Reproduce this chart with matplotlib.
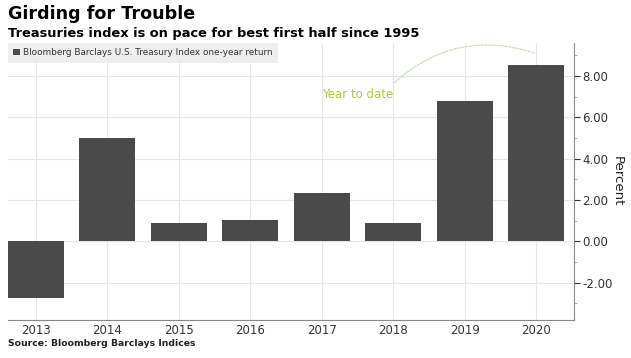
import matplotlib.pyplot as plt
from matplotlib.ticker import MultipleLocator, FormatStrFormatter

years = ['2013', '2014', '2015', '2016', '2017', '2018', '2019', '2020']
returns = [-2.72, 5.02, 0.87, 1.06, 2.32, 0.87, 6.81, 8.55]

BAR = '#4a4a4a'
GRID = '#e6e6e6'
GREEN = '#a8c94e'
ARC = '#bfe3b4'

W, H = 631, 358
fig = plt.figure(figsize=(W / 100, H / 100), dpi=100)
ax = fig.add_axes([8 / W, 1 - 320 / H, (574 - 8) / W, (320 - 43) / H])

x = range(len(years))
ax.bar(x, returns, width=0.78, color=BAR, label='Bloomberg Barclays U.S. Treasury Index one-year return',
       zorder=2)

ax.set_xlim(-0.39, 7.53)
ax.set_ylim(-3.8, 9.6)
ax.set_xticks(list(x))
ax.set_xticklabels(years)
ax.yaxis.tick_right()
ax.yaxis.set_label_position('right')
ax.yaxis.set_major_locator(MultipleLocator(2))
ax.yaxis.set_minor_locator(MultipleLocator(1))
ax.yaxis.set_major_formatter(FormatStrFormatter('%.2f'))
ax.set_ylabel('Percent', rotation=-90, labelpad=8, fontsize=9.5, color='#222222')
ax.tick_params(axis='y', which='major', length=4, labelsize=8.5, colors='#333333', pad=2)
ax.tick_params(axis='y', which='minor', length=2, colors='#999999')
ax.tick_params(axis='x', length=0, labelsize=8.5, colors='#333333', pad=3)
ax.grid(True, color=GRID, linewidth=0.8, zorder=0)
ax.set_axisbelow(True)
for s in ['top', 'left']:
    ax.spines[s].set_visible(False)
ax.spines['right'].set_color('#888888')
ax.spines['bottom'].set_color('#888888')

leg = ax.legend(loc='upper left', bbox_to_anchor=(0.0, 1.0), fontsize=6.4, frameon=True,
                fancybox=False, handlelength=0.7, handleheight=0.7, handletextpad=0.4,
                borderpad=0.6, borderaxespad=0.0)
leg.get_frame().set_facecolor('#eeeeee')
leg.get_frame().set_edgecolor('none')
leg.get_frame().set_alpha(1)
for t in leg.get_texts():
    t.set_color('#333333')

ax.annotate('', xy=(7.03, 9.05), xytext=(4.99, 7.6),
            arrowprops=dict(arrowstyle='-', color=ARC, linestyle=(0, (2, 1.2)),
                            linewidth=0.9, connectionstyle='arc3,rad=-0.3'))
ax.text(4.0, 7.1, 'Year to date', color=GREEN, fontsize=8.5, ha='left', va='center')

fig.text(8 / W, 1 - 14 / H, 'Girding for Trouble', fontsize=12.6, fontweight='bold',
         va='center', ha='left')
fig.text(8 / W, 1 - 33 / H, 'Treasuries index is on pace for best first half since 1995',
         fontsize=9.4, fontweight='bold', va='center', ha='left')
fig.text(8 / W, 1 - 343 / H, 'Source: Bloomberg Barclays Indices', fontsize=6.7,
         fontweight='bold', va='center', ha='left', color='#222222')

fig.savefig('out.png', dpi=100)
